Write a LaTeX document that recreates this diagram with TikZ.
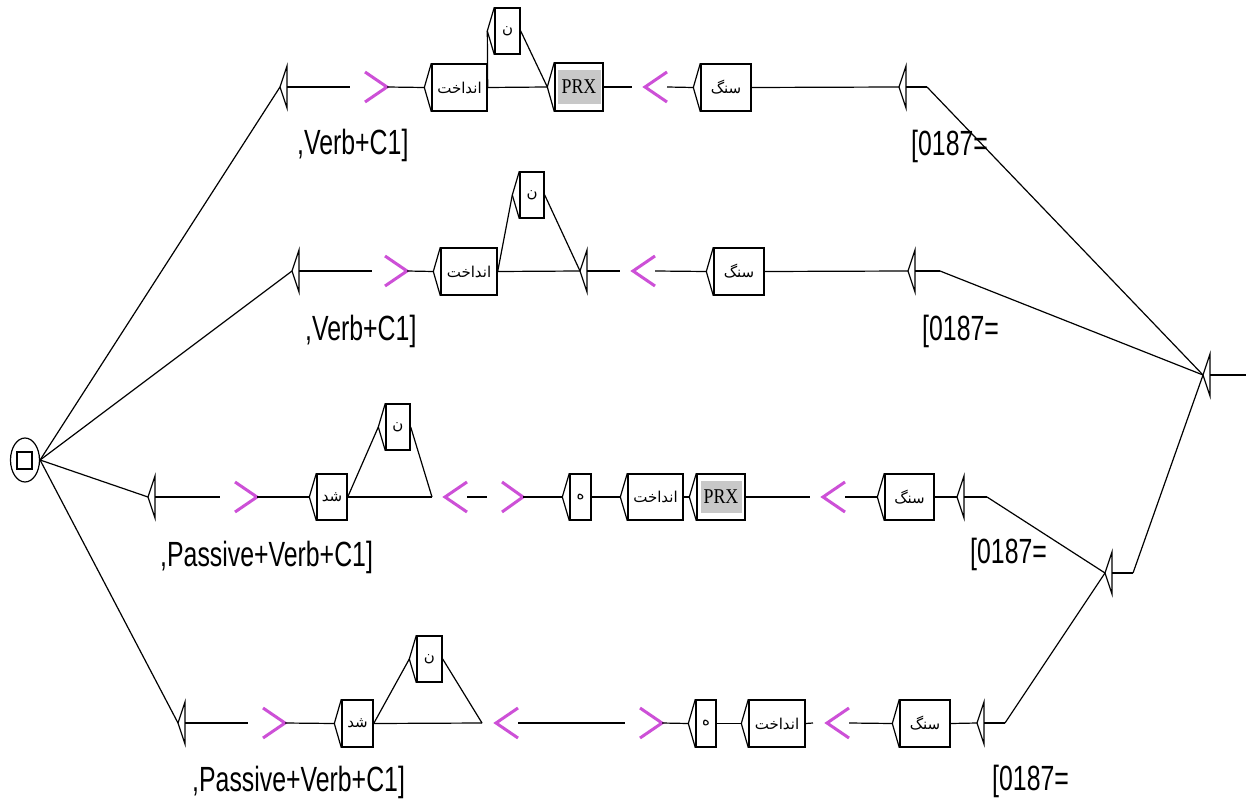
\documentclass[tikz,border=0pt]{standalone}
\usepackage{fontspec}
\setmainfont{Liberation Sans}
\newfontfamily\lblfont[FakeStretch=0.71]{Liberation Sans}
\newfontfamily\arabicfont[Script=Arabic]{DejaVu Sans}
\newfontfamily\prxfont[FakeStretch=0.85]{Liberation Serif}
\TeXXeTstate=1
\usetikzlibrary{calc,shapes.geometric}
\definecolor{chev}{RGB}{205,80,215}
\definecolor{prxgray}{RGB}{200,200,200}
\tikzset{
  wire/.style={line width=1.2pt},
  boxframe/.style={draw, line width=1.4pt, inner sep=0pt, fill=white,
    font=\fontsize{15}{15}\selectfont},
  chevline/.style={draw=chev, line width=3pt},
  lbl/.style={anchor=base west, inner sep=0pt, font=\lblfont\fontsize{35}{35}\selectfont},
}
\newcommand\ar[1]{{\arabicfont\beginR #1\endR}}
% empty box: name, tip x, y, end x
\newcommand\UEmpty[4]{%
  \coordinate (#1) at (#2,#3);
  \coordinate (#1-out) at (#4,#3);
  \draw[wire] (#2+7,#3-21) -- (#1) -- (#2+7,#3+21) -- cycle;
  \draw[wire] (#2+7,#3) -- (#1-out);
}
% box: name, left, top, right, bottom, content
\newcommand\UBox[6]{%
  \node[boxframe, minimum width={#4-#2}, minimum height={#5-#3}] (#1) at ({(#2+#4)/2},{(#3+#5)/2}) {#6};
  \coordinate (#1-in) at ($(#1.west)+(-7,0)$);
  \draw[wire] (#1.north west) -- (#1-in) -- (#1.south west);
}
% chevrons: name, x1, x2, y  (name-out at (x2,y))
\newcommand\ChevR[4]{%
  \coordinate (#1-out) at (#3,#4);
  \draw[chevline] (#2,#4-15) -- (#1-out) -- (#2,#4+15);
}
\newcommand\ChevL[4]{%
  \coordinate (#1-out) at (#3,#4);
  \coordinate (#1) at (#2,#4);
  \draw[chevline] (#3,#4-15) -- (#1) -- (#3,#4+15);
}
\begin{document}
\begin{tikzpicture}[x=1pt,y=-1pt]
\useasboundingbox (0,0) rectangle (1246,799);
\fill[white] (0,0) rectangle (1246,799);

% initial state
\node[draw, ellipse, line width=1.2pt, minimum width=29, minimum height=44, inner sep=0pt] (init) at (25,460) {};
\draw[line width=1.4pt] (17,452) rectangle (32,469);

% final state and merge
\UEmpty{fin}{1203}{375}{1246}
\UEmpty{mrg}{1105}{573}{1133}
\draw[wire] (mrg-out) -- (fin);

% ---------- Row 1 ----------
\UEmpty{r1o}{280}{87}{350}
\ChevR{r1c1}{365}{387}{87}
\UBox{r1a}{432}{64}{487}{111}{\ar{انداخت}}
\UBox{r1n}{495}{8}{520}{54}{\ar{ن}}
\UBox{r1p}{555}{63}{603}{111}{}
\fill[prxgray] (558,70) rectangle (601,104);
\node[inner sep=0pt, font=\prxfont\fontsize{21}{21}\selectfont] (r1pt) at (r1p) {PRX};
\coordinate (r1pe) at (632,87);
\ChevL{r1c2}{645}{667}{87}
\UBox{r1s}{701}{64}{751}{111}{\ar{سنگ}}
\UEmpty{r1e}{899}{87}{927}
\draw[wire] (init.east) -- (r1o);
\draw[wire] (r1c1-out) -- (r1a-in);
\draw[wire] (r1a.east) -- (r1p-in);
\draw[wire] (r1a.east) -- (r1n-in);
\draw[wire] (r1n.east) -- (r1p-in);
\draw[wire] (r1p.east) -- (r1pe);
\draw[wire] (r1c2-out) -- (r1s-in);
\draw[wire] (r1s.east) -- (r1e);
\draw[wire] (r1e-out) -- (fin);
\node[lbl] (r1l1) at (297,155) {,Verb+C1]};
\node[lbl] (r1l2) at (911,156) {[0187=};

% ---------- Row 2 ----------
\UEmpty{r2o}{292}{271}{372}
\ChevR{r2c1}{385}{407}{271}
\UBox{r2a}{441}{248}{497}{295}{\ar{انداخت}}
\UBox{r2n}{520}{172}{544}{218}{\ar{ن}}
\UEmpty{r2m}{580}{271}{620}
\ChevL{r2c2}{633}{655}{271}
\UBox{r2s}{714}{248}{764}{295}{\ar{سنگ}}
\UEmpty{r2e}{908}{271}{940}
\draw[wire] (init.east) -- (r2o);
\draw[wire] (r2c1-out) -- (r2a-in);
\draw[wire] (r2a.east) -- (r2m);
\draw[wire] (r2a.east) -- (r2n-in);
\draw[wire] (r2n.east) -- (r2m);
\draw[wire] (r2c2-out) -- (r2s-in);
\draw[wire] (r2s.east) -- (r2e);
\draw[wire] (r2e-out) -- (fin);
\node[lbl] (r2l1) at (305,340) {,Verb+C1]};
\node[lbl] (r2l2) at (922,340) {[0187=};

% ---------- Row 3 ----------
\UEmpty{r3o}{148}{497}{220}
\ChevR{r3c1}{235}{257}{497}
\UBox{r3d}{317}{474}{347}{520}{\ar{شد}}
\UBox{r3n}{386}{404}{410}{450}{\ar{ن}}
\coordinate (r3j) at (432,497);
\ChevL{r3c2}{445}{467}{497}
\coordinate (r3g) at (487,497);
\ChevR{r3c3}{502}{523}{497}
\UBox{r3h}{570}{474}{591}{520}{\ar{ه}}
\UBox{r3a}{628}{474}{683}{520}{\ar{انداخت}}
\UBox{r3p}{697}{474}{745}{520}{}
\fill[prxgray] (701,481) rectangle (742,513);
\node[inner sep=0pt, font=\prxfont\fontsize{21}{21}\selectfont] (r3pt) at (r3p) {PRX};
\coordinate (r3pe) at (810,497);
\ChevL{r3c4}{823}{845}{497}
\UBox{r3s}{885}{474}{934}{520}{\ar{سنگ}}
\UEmpty{r3e}{957}{497}{987}
\draw[wire] (init.east) -- (r3o);
\draw[wire] (r3c1-out) -- (r3d-in);
\draw[wire] (r3d.east) -- (r3j);
\draw[wire] (r3d.east) -- (r3n-in);
\draw[wire] (r3n.east) -- (r3j);
\draw[wire] (r3c2-out) -- (r3g);
\draw[wire] (r3c3-out) -- (r3h-in);
\draw[wire] (r3h.east) -- (r3a-in);
\draw[wire] (r3a.east) -- (r3p-in);
\draw[wire] (r3p.east) -- (r3pe);
\draw[wire] (r3c4-out) -- (r3s-in);
\draw[wire] (r3s.east) -- (r3e);
\draw[wire] (r3e-out) -- (mrg);
\node[lbl] (r3l1) at (160,566) {,Passive+Verb+C1]};
\node[lbl] (r3l2) at (970,563) {[0187=};

% ---------- Row 4 ----------
\UEmpty{r4o}{178}{723}{248}
\ChevR{r4c1}{263}{285}{723}
\UBox{r4d}{342}{700}{373}{747}{\ar{شد}}
\UBox{r4n}{417}{636}{442}{682}{\ar{ن}}
\coordinate (r4j) at (482,723);
\ChevL{r4c2}{496}{518}{723}
\coordinate (r4g) at (625,723);
\ChevR{r4c3}{640}{662}{723}
\UBox{r4h}{696}{700}{716}{747}{\ar{ه}}
\UBox{r4a}{749}{700}{805}{747}{\ar{انداخت}}
\coordinate (r4ae) at (813,723);
\ChevL{r4c4}{827}{849}{723}
\UBox{r4s}{900}{700}{950}{747}{\ar{سنگ}}
\UEmpty{r4e}{977}{723}{1005}
\draw[wire] (init.east) -- (r4o);
\draw[wire] (r4c1-out) -- (r4d-in);
\draw[wire] (r4d.east) -- (r4j);
\draw[wire] (r4d.east) -- (r4n-in);
\draw[wire] (r4n.east) -- (r4j);
\draw[wire] (r4c2-out) -- (r4g);
\draw[wire] (r4c3-out) -- (r4h-in);
\draw[wire] (r4h.east) -- (r4a-in);
\draw[wire] (r4a.east) -- (r4ae);
\draw[wire] (r4c4-out) -- (r4s-in);
\draw[wire] (r4s.east) -- (r4e);
\draw[wire] (r4e-out) -- (mrg);
\node[lbl] (r4l1) at (192,791) {,Passive+Verb+C1]};
\node[lbl] (r4l2) at (992,790) {[0187=};
\end{tikzpicture}
\end{document}
